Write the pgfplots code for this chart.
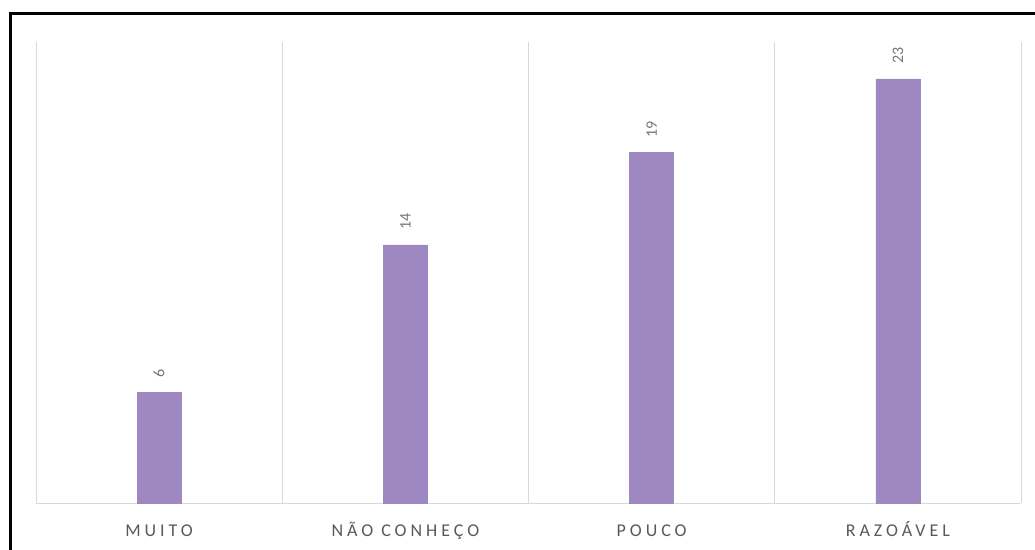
\documentclass[border=0pt]{standalone}
\usepackage{fontspec}
\setmainfont{Carlito}
\usepackage{pgfplots}
\pgfplotsset{compat=1.18}
\definecolor{barpurple}{RGB}{158,136,194}
\definecolor{gridgray}{RGB}{217,217,217}
\definecolor{labgray}{RGB}{89,89,89}
\definecolor{numgray}{RGB}{118,118,118}
\begin{document}
\begin{tikzpicture}
\useasboundingbox (0,0) rectangle (1035pt,549pt);
\draw[line width=3pt, black] (10pt,-2pt) -- (10pt,535pt) -- (1037pt,535pt);
\begin{axis}[
  at={(36pt,46pt)}, anchor=south west,
  scale only axis, width=985pt, height=461pt,
  xmin=-0.5, xmax=3.5, ymin=0, ymax=25,
  axis y line=none,
  axis x line*=bottom,
  axis line style={-, draw=gridgray, line width=1pt},
  xtick={0,1,2,3},
  xticklabels={MUITO, NÃO CONHEÇO, POUCO, RAZOÁVEL},
  minor xtick={-0.5,0.5,1.5,2.5,3.5},
  xminorgrids=true,
  minor grid style={draw=gridgray, line width=1pt},
  major tick length=0pt, minor tick length=0pt,
  xticklabel style={anchor=base, yshift=-33pt, text=labgray, font=\fontsize{18}{21}\selectfont\addfontfeature{LetterSpace=22}},
  /pgf/number format/assume math mode=true,
  nodes near coords,
  every node near coord/.append style={rotate=90, anchor=west, inner xsep=15pt, inner ysep=0pt, text=numgray, font=\fontsize{16}{19}\selectfont},
  ybar, bar width=44pt,
]
\addplot[fill=barpurple, draw=barpurple] coordinates {(0,6) (1,14) (2,19) (3,23)};
\end{axis}
\end{tikzpicture}
\end{document}
